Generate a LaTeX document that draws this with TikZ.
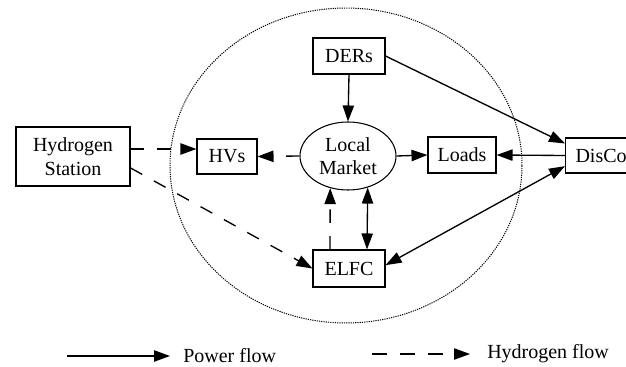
\documentclass[tikz,border=0pt]{standalone}
\usepackage{fontspec}
\setmainfont{Liberation Serif}
\usetikzlibrary{arrows.meta,shapes.geometric,calc}
\begin{document}
\begin{tikzpicture}[x=0.75pt,y=-0.75pt,
  lbl/.style={font=\fontsize{15}{17.5}\selectfont,align=center},
  box/.style={draw,line width=0.8pt,lbl,inner sep=0pt},
  tip/.style={Triangle[length=12pt,width=8.5pt]},
  pw/.style={line width=1pt,-{Triangle[length=12pt,width=8.5pt]}},
  pwb/.style={line width=1pt,{Triangle[length=12pt,width=8.5pt]}-{Triangle[length=12pt,width=8.5pt]}},
  hf/.style={line width=1pt,dash pattern=on 10pt off 10pt,-{Triangle[length=12pt,width=8.5pt]}}]
\useasboundingbox (0,0) rectangle (626,367);
\clip (0,0) rectangle (626,367);
% outer dotted region
\draw[line width=0.75pt,dash pattern=on 0.9pt off 0.8pt] (346,165.5) ellipse [x radius=132pt, y radius=118.1pt];
% nodes
\node[box,minimum width=85.5pt,minimum height=44.25pt] (HS) at (73,156.5) {Hydrogen\\Station};
\node[box,minimum width=45pt,minimum height=26.25pt] (HVs) at (227,156.5) {HVs};
\node[box,minimum width=54pt,minimum height=27pt] (DERs) at (349,56) {DERs};
\node[draw,ellipse,line width=0.8pt,lbl,inner sep=0pt,minimum width=72pt,minimum height=51pt] (LM) at (348,156) {Local\\Market};
\node[box,minimum width=51pt,minimum height=27pt] (Loads) at (462,155) {Loads};
\node[box,minimum width=54pt,minimum height=27.75pt] (ELFC) at (349,268.5) {ELFC};
\node[box,anchor=west,inner xsep=7.5pt,minimum height=26.25pt] (DisCo) at (565,155.5) {DisCo};
% hydrogen flows
\draw[hf] ([yshift=5.625pt]HS.east) -- ([yshift=5.625pt]HVs.west);
\draw[hf] ([yshift=-8.6pt]HS.east) -- (ELFC.west);
\draw[hf] (LM.west) -- (HVs.east);
\draw[hf] ([xshift=-14.25pt]ELFC.north) -- (LM.-119.7);
% power flows
\draw[pw] (DERs.south) -- (LM.north);
\draw[pw] (DERs.east) -- ([yshift=9pt]DisCo.west);
\draw[pw] (LM.east) -- (Loads.west);
\draw[pw] (DisCo.west) -- (Loads.east);
\draw[pwb] ([yshift=-8pt]DisCo.west) -- ([yshift=2.5pt]ELFC.east);
\draw[pwb] ([xshift=13.5pt]ELFC.north) -- (LM.-58.5);
% legend
\coordinate (p1) at (67,356);
\node[lbl,anchor=west,inner sep=0pt] (ptext) at (183,356) {Power flow};
\draw[pw] (p1) -- ([xshift=-9.75pt]ptext.west);
\coordinate (h1) at (372,354);
\node[lbl,anchor=west,inner sep=0pt] (htext) at (487,354) {Hydrogen flow};
\draw[hf,dash pattern=on 11pt off 10pt] (h1) -- ([xshift=-12.75pt]htext.west);
\end{tikzpicture}
\end{document}
